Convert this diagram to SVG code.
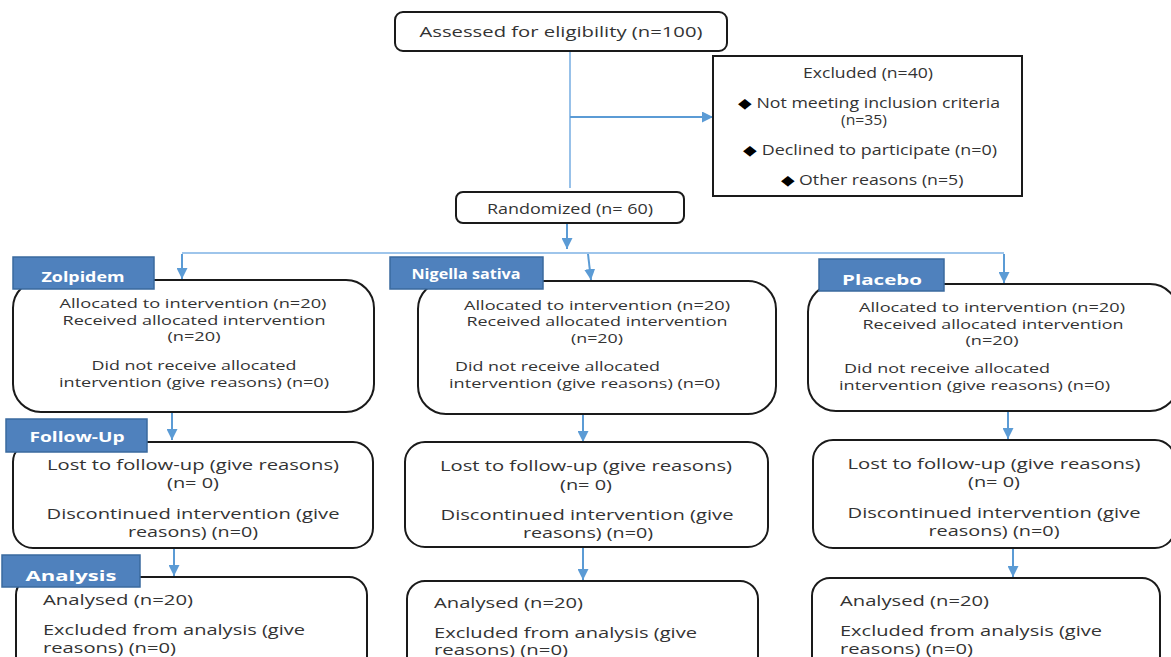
<svg xmlns="http://www.w3.org/2000/svg" width="1171" height="657" viewBox="0 0 1171 657">
<defs>
<marker id="ah" viewBox="0 0 10 10" refX="10" refY="5" markerWidth="11" markerHeight="11" markerUnits="userSpaceOnUse" orient="auto">
<path d="M0,0 L10,5 L0,10 z" fill="#5B9BD5"/>
</marker>
<style>
.box{fill:#fff;stroke:#1a1a1a;stroke-width:2}
.hdr{fill:#4F81BD;stroke:#3A6A9E;stroke-width:1.5}
.t{font-family:"Open Sans","Liberation Sans",sans-serif;font-size:14px;fill:#333}
.s{font-size:13px}
.c{text-anchor:middle}
.h{font-family:"Open Sans","Liberation Sans",sans-serif;font-weight:bold;font-size:14px;fill:#fff;text-anchor:middle}
.ln{stroke:#7EB2E4;stroke-width:1.6;fill:none}
.ar{stroke:#5B9BD5;stroke-width:2;fill:none;marker-end:url(#ah)}
</style>
</defs>
<rect width="1171" height="657" fill="#fff"/>

<g id="connectors">
<line class="ln" x1="570" y1="52" x2="570" y2="188"/>
<line class="ar" x1="570" y1="117" x2="713" y2="117"/>
<line class="ar" x1="567" y1="224" x2="567" y2="249"/>
<line class="ln" x1="182" y1="253" x2="1004" y2="253"/>
<line class="ar" x1="182" y1="254" x2="182" y2="279"/>
<line class="ar" x1="588" y1="254" x2="591" y2="280"/>
<line class="ar" x1="1004" y1="254" x2="1004" y2="283"/>
<line class="ar" x1="172" y1="413" x2="172" y2="440"/>
<line class="ar" x1="583" y1="415" x2="583" y2="442"/>
<line class="ar" x1="1008" y1="412" x2="1008" y2="439"/>
<line class="ar" x1="174" y1="549" x2="174" y2="576"/>
<line class="ar" x1="583" y1="548" x2="583" y2="580"/>
<line class="ar" x1="1013" y1="549" x2="1013" y2="577"/>
</g>

<g id="assessed">
<rect class="box" x="395" y="12" width="332" height="39" rx="8"/>
<text class="t c" x="561" y="37" font-size="15" textLength="283" lengthAdjust="spacingAndGlyphs">Assessed for eligibility (n=100)</text>
</g>

<g id="excluded">
<rect x="713" y="56" width="309" height="140" fill="#fff" stroke="#1a1a1a" stroke-width="2"/>
<text class="t c" x="868" y="78" font-size="13" textLength="130" lengthAdjust="spacingAndGlyphs">Excluded (n=40)</text>
<text class="t c" x="869" y="108" font-size="13" textLength="262" lengthAdjust="spacingAndGlyphs"><tspan fill="#000">◆</tspan> Not meeting inclusion criteria</text>
<text class="t c" x="864" y="125" font-size="14" textLength="46" lengthAdjust="spacingAndGlyphs">(n=35)</text>
<text class="t c" x="870" y="155" font-size="13" textLength="254" lengthAdjust="spacingAndGlyphs"><tspan fill="#000">◆</tspan> Declined to participate (n=0)</text>
<text class="t c" x="872" y="185" font-size="13" textLength="183" lengthAdjust="spacingAndGlyphs"><tspan fill="#000">◆</tspan> Other reasons (n=5)</text>
</g>

<g id="randomized">
<rect class="box" x="456" y="192" width="228" height="31" rx="7"/>
<text class="t c" x="570" y="214" font-size="13" textLength="166" lengthAdjust="spacingAndGlyphs">Randomized (n= 60)</text>
</g>

<g id="alloc-zolpidem">
<rect class="box" x="13" y="280" width="361" height="132" rx="28"/>
<text class="t s c" x="193" y="308" textLength="267" lengthAdjust="spacingAndGlyphs">Allocated to intervention (n=20)</text>
<text class="t s c" x="194" y="325" textLength="263" lengthAdjust="spacingAndGlyphs">Received allocated intervention</text>
<text class="t s c" x="194" y="341" textLength="53" lengthAdjust="spacingAndGlyphs">(n=20)</text>
<text class="t s c" x="194" y="370" textLength="205" lengthAdjust="spacingAndGlyphs">Did not receive allocated</text>
<text class="t s c" x="194" y="387" textLength="270" lengthAdjust="spacingAndGlyphs">intervention (give reasons) (n=0)</text>
</g>

<g id="alloc-nigella">
<rect class="box" x="418" y="281" width="358" height="133" rx="28"/>
<text class="t s c" x="597" y="310" textLength="266" lengthAdjust="spacingAndGlyphs">Allocated to intervention (n=20)</text>
<text class="t s c" x="597" y="326" textLength="261" lengthAdjust="spacingAndGlyphs">Received allocated intervention</text>
<text class="t s c" x="597" y="343" textLength="52" lengthAdjust="spacingAndGlyphs">(n=20)</text>
<text class="t s" x="455" y="371" textLength="205" lengthAdjust="spacingAndGlyphs">Did not receive allocated</text>
<text class="t s" x="449" y="388" textLength="271" lengthAdjust="spacingAndGlyphs">intervention (give reasons) (n=0)</text>
</g>

<g id="alloc-placebo">
<rect class="box" x="808" y="284" width="370" height="127" rx="28"/>
<text class="t s c" x="992" y="312" textLength="266" lengthAdjust="spacingAndGlyphs">Allocated to intervention (n=20)</text>
<text class="t s c" x="993" y="329" textLength="261" lengthAdjust="spacingAndGlyphs">Received allocated intervention</text>
<text class="t s c" x="992" y="345" textLength="53" lengthAdjust="spacingAndGlyphs">(n=20)</text>
<text class="t s" x="844" y="373" textLength="206" lengthAdjust="spacingAndGlyphs">Did not receive allocated</text>
<text class="t s" x="839" y="390" textLength="271" lengthAdjust="spacingAndGlyphs">intervention (give reasons) (n=0)</text>
</g>

<g id="follow-zolpidem">
<rect class="box" x="13" y="442" width="360" height="106" rx="20"/>
<text class="t c" x="193" y="470" textLength="292" lengthAdjust="spacingAndGlyphs">Lost to follow-up (give reasons)</text>
<text class="t c" x="193" y="488" textLength="52" lengthAdjust="spacingAndGlyphs">(n= 0)</text>
<text class="t c" x="193" y="519" textLength="293" lengthAdjust="spacingAndGlyphs">Discontinued intervention (give</text>
<text class="t c" x="193" y="537" textLength="130" lengthAdjust="spacingAndGlyphs">reasons) (n=0)</text>
</g>

<g id="follow-nigella">
<rect class="box" x="405" y="442" width="363" height="105" rx="20"/>
<text class="t c" x="586" y="471" textLength="292" lengthAdjust="spacingAndGlyphs">Lost to follow-up (give reasons)</text>
<text class="t c" x="586" y="490" textLength="52" lengthAdjust="spacingAndGlyphs">(n= 0)</text>
<text class="t c" x="587" y="520" textLength="293" lengthAdjust="spacingAndGlyphs">Discontinued intervention (give</text>
<text class="t c" x="588" y="538" textLength="130" lengthAdjust="spacingAndGlyphs">reasons) (n=0)</text>
</g>

<g id="follow-placebo">
<rect class="box" x="813" y="440" width="362" height="108" rx="20"/>
<text class="t c" x="994" y="469" textLength="293" lengthAdjust="spacingAndGlyphs">Lost to follow-up (give reasons)</text>
<text class="t c" x="994" y="487" textLength="52" lengthAdjust="spacingAndGlyphs">(n= 0)</text>
<text class="t c" x="994" y="518" textLength="293" lengthAdjust="spacingAndGlyphs">Discontinued intervention (give</text>
<text class="t c" x="994" y="536" textLength="131" lengthAdjust="spacingAndGlyphs">reasons) (n=0)</text>
</g>

<g id="analysis-zolpidem">
<rect class="box" x="16" y="577" width="351" height="100" rx="18"/>
<text class="t" x="43" y="605" textLength="150" lengthAdjust="spacingAndGlyphs">Analysed (n=20)</text>
<text class="t" x="43" y="635" textLength="262" lengthAdjust="spacingAndGlyphs">Excluded from analysis (give</text>
<text class="t" x="43" y="653" textLength="133" lengthAdjust="spacingAndGlyphs">reasons) (n=0)</text>
</g>

<g id="analysis-nigella">
<rect class="box" x="407" y="581" width="351" height="100" rx="18"/>
<text class="t" x="434" y="608" textLength="149" lengthAdjust="spacingAndGlyphs">Analysed (n=20)</text>
<text class="t" x="434" y="638" textLength="263" lengthAdjust="spacingAndGlyphs">Excluded from analysis (give</text>
<text class="t" x="434" y="655" textLength="134" lengthAdjust="spacingAndGlyphs">reasons) (n=0)</text>
</g>

<g id="analysis-placebo">
<rect class="box" x="812" y="578" width="348" height="100" rx="18"/>
<text class="t" x="840" y="606" textLength="149" lengthAdjust="spacingAndGlyphs">Analysed (n=20)</text>
<text class="t" x="840" y="636" textLength="262" lengthAdjust="spacingAndGlyphs">Excluded from analysis (give</text>
<text class="t" x="840" y="654" textLength="133" lengthAdjust="spacingAndGlyphs">reasons) (n=0)</text>
</g>

<g id="label-zolpidem">
<rect class="hdr" x="13" y="257" width="141" height="32"/>
<text class="h" x="83" y="282" textLength="83" lengthAdjust="spacingAndGlyphs">Zolpidem</text>
</g>
<g id="label-nigella">
<rect class="hdr" x="390" y="257" width="153" height="32"/>
<text class="h" x="466" y="279" textLength="109" lengthAdjust="spacingAndGlyphs">Nigella sativa</text>
</g>
<g id="label-placebo">
<rect class="hdr" x="819" y="259" width="125" height="32"/>
<text class="h" x="882" y="285" font-size="17" textLength="80" lengthAdjust="spacingAndGlyphs">Placebo</text>
</g>
<g id="label-followup">
<rect class="hdr" x="6" y="419" width="141" height="33"/>
<text class="h" x="77" y="442" font-size="15" textLength="95" lengthAdjust="spacingAndGlyphs">Follow-Up</text>
</g>
<g id="label-analysis">
<rect class="hdr" x="2" y="555" width="138" height="32"/>
<text class="h" x="71" y="581" font-size="18" textLength="91" lengthAdjust="spacingAndGlyphs">Analysis</text>
</g>
</svg>
